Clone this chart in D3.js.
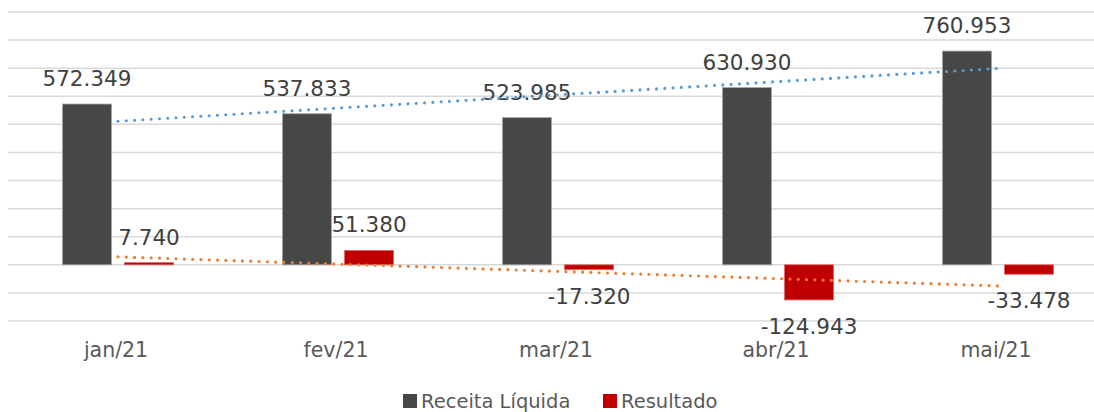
<!DOCTYPE html>
<html>
<head>
<meta charset="utf-8">
<script src="https://cdn.jsdelivr.net/npm/d3@7"></script>
<style>
  body { margin: 0; background: #fff; }
  svg { display: block; }
</style>
</head>
<body>
<svg id="chart" width="1094" height="412"></svg>
<script>
const months = ['jan/21', 'fev/21', 'mar/21', 'abr/21', 'mai/21'];
const receita = [572349, 537833, 523985, 630930, 760953];
const resultado = [7740, 51380, -17320, -124943, -33478];
const seriesNames = ['Receita Líquida', 'Resultado'];
const seriesColors = ['#474747', '#C00000'];
const seriesStroke = ['#a6a6a6', '#e06666'];
const trendColors = ['#5B9BD5', '#ED7D31'];
const gridTicks = [-200000, -100000, 0, 100000, 200000, 300000, 400000, 500000, 600000, 700000, 800000, 900000];

const width = 1094, height = 412;
const svg = d3.select('#chart');

const fmt = d3.formatLocale({ decimal: ',', thousands: '.', grouping: [3], currency: ['R$', ''], minus: '-' }).format(',.0f');

const x0 = d3.scaleBand()
  .domain(months)
  .range([8, 1108])
  .paddingInner(0.495)
  .paddingOuter(0.2475);

const x1 = d3.scaleBand()
  .domain([0, 1])
  .range([0, x0.bandwidth()])
  .paddingInner(0.21);

const y = d3.scaleLinear()
  .domain([-200000, 900000])
  .range([321, 12]);

// grid
svg.append('g')
  .selectAll('line')
  .data(gridTicks)
  .join('line')
  .attr('x1', 8)
  .attr('x2', width)
  .attr('y1', d => y(d))
  .attr('y2', d => y(d))
  .attr('stroke', '#d9d9d9')
  .attr('stroke-width', 1.5);

const series = [receita, resultado];

// bars
series.forEach((vals, s) => {
  svg.append('g')
    .selectAll('rect')
    .data(vals)
    .join('rect')
    .attr('x', (d, i) => x0(months[i]) + x1(s))
    .attr('y', d => y(Math.max(0, d)))
    .attr('width', x1.bandwidth())
    .attr('height', d => Math.abs(y(d) - y(0)))
    .attr('fill', seriesColors[s])
    .attr('stroke', seriesStroke[s])
    .attr('stroke-width', 0.8);
});

// value labels
series.forEach((vals, s) => {
  svg.append('g')
    .attr('font-family', 'DejaVu Sans, sans-serif')
    .attr('font-size', 21.5)
    .attr('fill', '#404040')
    .attr('text-anchor', 'middle')
    .selectAll('text')
    .data(vals)
    .join('text')
    .attr('x', (d, i) => x0(months[i]) + x1(s) + x1.bandwidth() / 2)
    .attr('y', d => d >= 0 ? y(d) - 18 : y(d) + 34)
    .text(d => fmt(d));
});

// linear trendlines
series.forEach((vals, s) => {
  const n = vals.length;
  const mx = d3.mean(vals, (d, i) => i + 1);
  const my = d3.mean(vals);
  const slope = d3.sum(vals, (d, i) => (i + 1 - mx) * (d - my)) / d3.sum(vals, (d, i) => (i + 1 - mx) ** 2);
  const pts = [1, n].map(k => [x0(months[k - 1]) + x0.bandwidth() / 2, y(my + slope * (k - mx))]);
  svg.append('path')
    .attr('d', d3.line()(pts))
    .attr('fill', 'none')
    .attr('stroke', trendColors[s])
    .attr('stroke-width', 3.2)
    .attr('stroke-linecap', 'round')
    .attr('stroke-dasharray', '0 8.3');
});

// category axis labels
svg.append('g')
  .attr('font-family', 'DejaVu Sans, sans-serif')
  .attr('font-size', 20.5)
  .attr('fill', '#595959')
  .attr('text-anchor', 'middle')
  .selectAll('text')
  .data(months)
  .join('text')
  .attr('x', d => x0(d) + x0.bandwidth() / 2 - 2)
  .attr('y', 357)
  .text(d => d);

// legend
const legend = svg.append('g')
  .attr('font-family', 'DejaVu Sans, sans-serif')
  .attr('font-size', 19.5)
  .attr('fill', '#595959');
const legendX = [403, 603];
seriesNames.forEach((name, s) => {
  legend.append('rect')
    .attr('x', legendX[s])
    .attr('y', 394)
    .attr('width', 14)
    .attr('height', 14)
    .attr('fill', seriesColors[s]);
  legend.append('text')
    .attr('x', legendX[s] + 18)
    .attr('y', 408)
    .text(name);
});
</script>
</body>
</html>
